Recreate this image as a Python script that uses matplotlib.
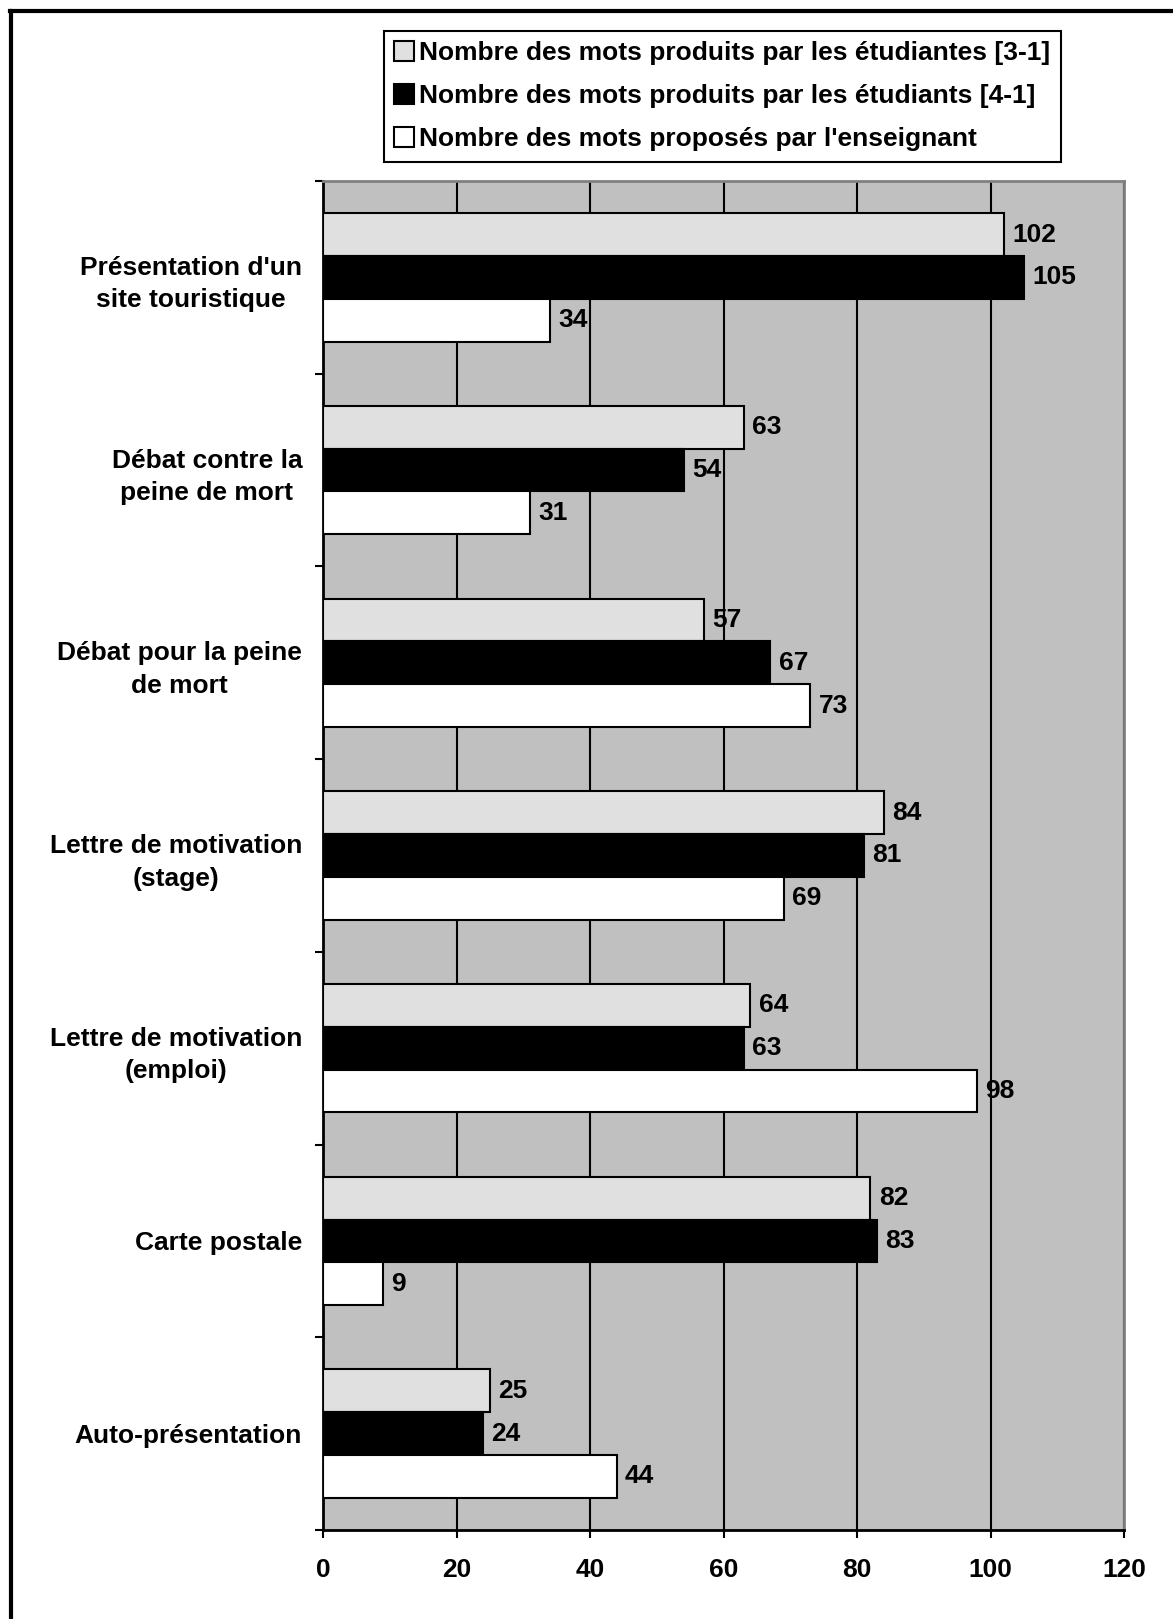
import numpy as np
import matplotlib
matplotlib.use("Agg")
from matplotlib import pyplot as plt
from matplotlib.lines import Line2D

plt.rcParams['font.family'] = ['Liberation Sans', 'DejaVu Sans']
plt.rcParams['font.weight'] = 'bold'

# data
categories = ["Présentation d'un\nsite touristique", "Débat contre la\npeine de mort",
              "Débat pour la peine\nde mort", "Lettre de motivation\n(stage)",
              "Lettre de motivation\n(emploi)", "Carte postale", "Auto-présentation"]
etudiantes_31 = [102, 63, 57, 84, 64, 82, 25]
etudiants_41 = [105, 54, 67, 81, 63, 83, 24]
enseignant = [34, 31, 73, 69, 98, 9, 44]
series_names = ["Nombre des mots produits par les étudiantes [3-1]",
                "Nombre des mots produits par les étudiants [4-1]",
                "Nombre des mots proposés par l'enseignant"]
x_ticks = [0, 20, 40, 60, 80, 100, 120]

fs = 19
fig = plt.figure(figsize=(11.73, 16.19), dpi=100)
ax = fig.add_axes([0.2754, 0.0550, 0.6829, 0.8332])
ax.set_facecolor('#c0c0c0')

y = np.arange(len(categories))
h = 0.222
colors = ['#e0e0e0', 'black', 'white']
for k, (vals, col) in enumerate(zip([etudiantes_31, etudiants_41, enseignant], colors)):
    ax.barh(y + (k - 1) * h, vals, height=h, color=col, edgecolor='black',
            linewidth=1.5, label=series_names[k], zorder=3)
    for yi, v in zip(y + (k - 1) * h, vals):
        ax.annotate(str(v), (v, yi), xytext=(6, 0), textcoords='offset points',
                    ha='left', va='center', fontsize=fs, fontweight='bold', zorder=4)

ax.set_xlim(0, 120)
ax.set_ylim(len(categories) - 0.5, -0.5)
ax.set_xticks(x_ticks)
ax.set_xticklabels([str(t) for t in x_ticks], fontsize=fs, fontweight='bold')
ax.set_yticks(y)
ax.set_yticklabels(categories, fontsize=fs, fontweight='bold', multialignment='center',
                   linespacing=1.45)
ax.set_yticks(np.arange(-0.5, len(categories)), minor=True)
ax.tick_params(axis='y', which='major', length=0, pad=15)
ax.tick_params(axis='y', which='minor', length=6, width=1.5, direction='out')
ax.tick_params(axis='x', length=6, width=1.5, direction='out', pad=14)

ax.set_axisbelow(True)
ax.xaxis.grid(True, color='black', linewidth=1.5, zorder=0)
for s in ['left', 'bottom']:
    ax.spines[s].set_linewidth(2)
    ax.spines[s].set_color('black')
for s in ['top', 'right']:
    ax.spines[s].set_linewidth(2)
    ax.spines[s].set_color('#808080')

leg = fig.legend(loc='upper center', bbox_to_anchor=(0.6158, 0.981), fontsize=fs,
                 frameon=True, fancybox=False, edgecolor='black', framealpha=1,
                 handlelength=0.75, handleheight=0.75, handletextpad=0.2,
                 labelspacing=0.72, borderpad=0.4, borderaxespad=0)
leg.get_frame().set_linewidth(1.5)
for t in leg.get_texts():
    t.set_fontweight('bold')

# page frame (left and top edges only)
fig.add_artist(Line2D([0.0095, 0.0095], [0, 0.9932], transform=fig.transFigure,
                      color='black', linewidth=3))
fig.add_artist(Line2D([0.0082, 1.0], [0.9932, 0.9932], transform=fig.transFigure,
                      color='black', linewidth=3))

fig.savefig("out.png", dpi=100)
